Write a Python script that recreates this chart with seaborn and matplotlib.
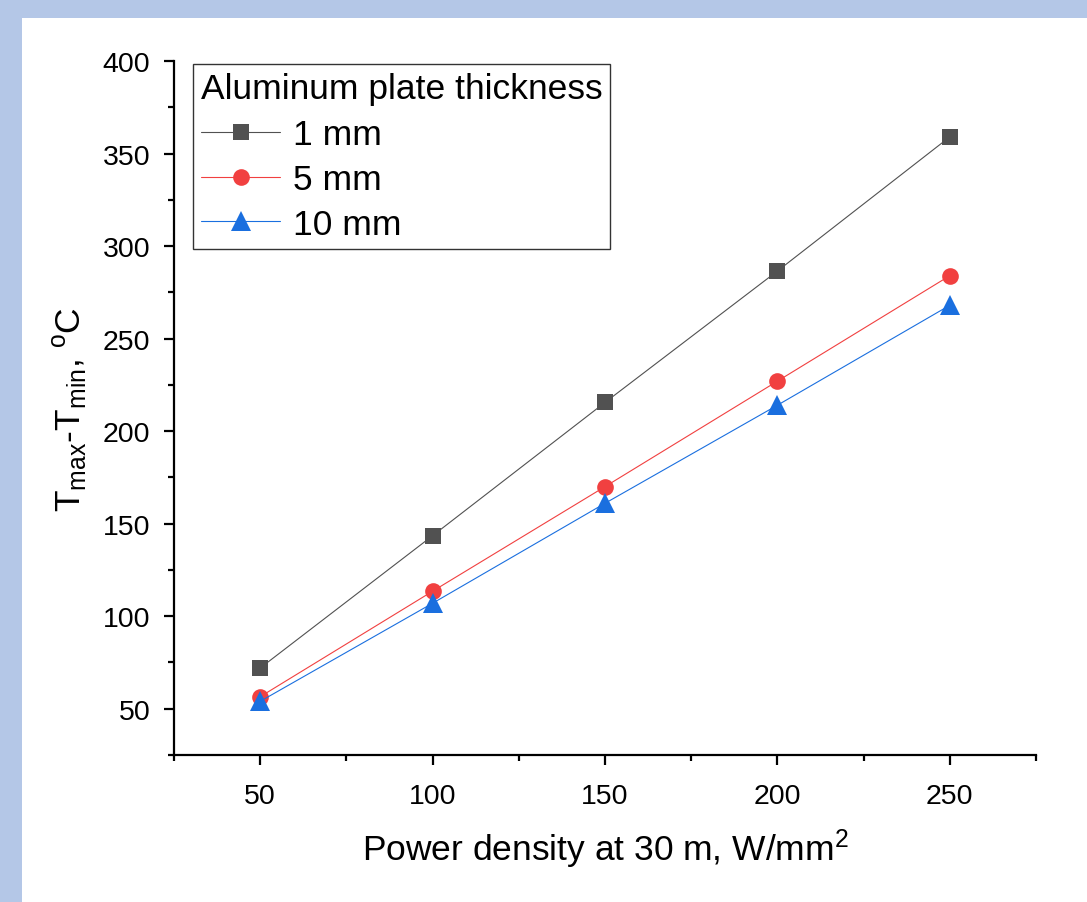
import matplotlib
matplotlib.use("Agg")
import matplotlib.pyplot as plt
from matplotlib.patches import Rectangle
from matplotlib.ticker import MultipleLocator
import pandas as pd
import seaborn as sns

# Power density values (W/mm^2) and temperature spread (deg C) per plate thickness
power_density = [50, 100, 150, 200, 250]
dt_1mm = [72, 143.5, 215.5, 286.5, 359]
dt_5mm = [56.5, 113.5, 170, 227, 284]
dt_10mm = [54, 107, 161, 214, 268]
thickness_labels = ["1 mm", "5 mm", "10 mm"]

colors = ["#515151", "#F14040", "#1A6FDF"]
markers = ["s", "o", "^"]
marker_sizes = [11.5, 12, 14]

sns.set_theme(style="ticks")
plt.rcParams["font.family"] = ["Liberation Sans", "DejaVu Sans"]
plt.rcParams["mathtext.default"] = "regular"
plt.rcParams["text.color"] = "black"
plt.rcParams["axes.labelcolor"] = "black"

fig = plt.figure(figsize=(10.87, 9.03), dpi=100, facecolor="#B4C7E7")
# white canvas panel behind the axes
fig.patches.append(Rectangle((22 / 1087, 0), 1, 1 - 19 / 903, transform=fig.transFigure,
                             facecolor="white", edgecolor="none", zorder=-10))
ax = fig.add_axes([174 / 1087, 1 - 756 / 903, (1036 - 174) / 1087, (756 - 62) / 903])
ax.set_zorder(1)
ax.set_facecolor("white")

df = pd.DataFrame({
    "power": power_density * 3,
    "dt": dt_1mm + dt_5mm + dt_10mm,
    "thickness": [lab for lab in thickness_labels for _ in power_density],
})

for lab, c, m, ms in zip(thickness_labels, colors, markers, marker_sizes):
    sub = df[df["thickness"] == lab]
    sns.lineplot(data=sub, x="power", y="dt", ax=ax, color=c, marker=m, markersize=ms,
                 markeredgewidth=0, linewidth=0.8, label=lab, sort=False)

ax.set_xlim(25, 275)
ax.set_ylim(25, 400)
ax.xaxis.set_minor_locator(MultipleLocator(25))
ax.yaxis.set_minor_locator(MultipleLocator(25))
ax.set_xticks([50, 100, 150, 200, 250])
ax.set_yticks([50, 100, 150, 200, 250, 300, 350, 400])

for side in ["top", "right"]:
    ax.spines[side].set_visible(False)
for side in ["left", "bottom"]:
    ax.spines[side].set_linewidth(1.6)
    ax.spines[side].set_color("black")

ax.tick_params(which="major", direction="out", length=7, width=1.6, labelsize=20.5,
               colors="black")
ax.tick_params(which="minor", direction="out", length=4, width=1.6, colors="black")
ax.tick_params(axis="x", which="major", pad=13)
ax.tick_params(axis="y", which="major", pad=10)

ax.set_xlabel(r"Power density at 30 m, W/mm$^{2}$", fontsize=25.5, labelpad=13)
ax.set_ylabel(r"T$_{max}$-T$_{min}$, $^{o}$C", fontsize=25.5, labelpad=10)

leg = ax.legend(title="Aluminum plate thickness", loc="upper left",
                bbox_to_anchor=(0.022, 0.996), borderaxespad=0, fontsize=25.5,
                title_fontsize=25.5, handlelength=2.25, handletextpad=0.35,
                labelspacing=0.33, borderpad=0.22, fancybox=False, framealpha=1,
                edgecolor="#333333", alignment="left")
leg.get_frame().set_linewidth(1.0)
leg._legend_box.sep = 10

fig.savefig("out.png", dpi=100, facecolor=fig.get_facecolor())
